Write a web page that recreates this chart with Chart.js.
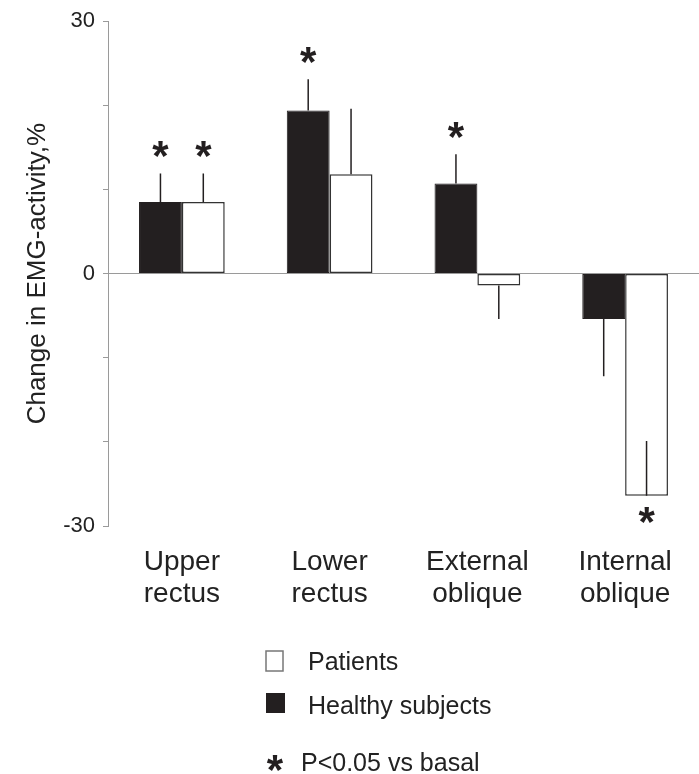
<!DOCTYPE html>
<html>
<head>
<meta charset="utf-8">
<script src="https://cdn.jsdelivr.net/npm/chart.js@4.4.0/dist/chart.umd.min.js"></script>
<style>
  html, body { margin: 0; padding: 0; background: #fff; }
  #wrap { width: 699px; height: 774px; }
</style>
</head>
<body>
<div id="wrap"><canvas id="chart" width="699" height="774"></canvas></div>
<script>
var categories = [['Upper', 'rectus'], ['Lower', 'rectus'], ['External', 'oblique'], ['Internal', 'oblique']];

// mean change, %
var healthy = [8.5, 19.4, 10.7, -5.4];
var patients = [8.5, 11.8, -1.4, -26.4];

// error bar length, signed (drawn from bar end)
var healthyErr = [3.4, 3.7, 3.5, -6.8];
var patientsErr = [3.4, 7.8, -4.0, 6.5];

// P<0.05 vs basal
var healthySig = [true, true, true, false];
var patientsSig = [true, false, false, true];

var yTickLabels = [30, 0, -30];

var ink = '#231f20';
var textColor = '#222222';
var axisColor = '#9a9a9a';
var family = 'Arial, "Liberation Sans", sans-serif';

var errs = [healthyErr, patientsErr];
var sigs = [healthySig, patientsSig];

function drawStar(ctx, x, y, size) {
    ctx.save();
    ctx.font = 'bold ' + size + 'px ' + family;
    ctx.fillStyle = ink;
    ctx.textAlign = 'center';
    ctx.textBaseline = 'alphabetic';
    var m = ctx.measureText('*');
    var asc = m.actualBoundingBoxAscent, desc = m.actualBoundingBoxDescent;
    ctx.fillText('*', x, y + (asc - desc) / 2);
    ctx.restore();
}

var errorBarsPlugin = {
    id: 'errorBars',
    afterDatasetsDraw: function (chart) {
        var ctx = chart.ctx;
        var y = chart.scales.y;
        chart.data.datasets.forEach(function (ds, i) {
            var meta = chart.getDatasetMeta(i);
            meta.data.forEach(function (bar, j) {
                var v = ds.data[j];
                var e = errs[i][j];
                ctx.save();
                ctx.strokeStyle = ink;
                ctx.lineWidth = 1.5;
                ctx.beginPath();
                ctx.moveTo(bar.x, y.getPixelForValue(v));
                ctx.lineTo(bar.x, y.getPixelForValue(v + e));
                ctx.stroke();
                ctx.restore();
                if (sigs[i][j]) {
                    var far = v >= 0 ? Math.max(v, v + e) : Math.min(v, v + e);
                    var py = y.getPixelForValue(far);
                    drawStar(ctx, bar.x, v >= 0 ? py - 24 : py + 19, 42);
                }
            });
        });
    }
};

var legendPlugin = {
    id: 'sideLegend',
    afterDraw: function (chart) {
        var ctx = chart.ctx;
        ctx.save();
        ctx.font = '25px ' + family;
        ctx.fillStyle = textColor;
        ctx.textBaseline = 'alphabetic';
        ctx.textAlign = 'left';
        // Patients
        ctx.strokeStyle = '#777';
        ctx.lineWidth = 1.5;
        ctx.strokeRect(266, 651, 17, 20);
        ctx.fillText('Patients', 308, 670);
        // Healthy
        ctx.fillStyle = ink;
        ctx.fillRect(266, 693, 19, 20);
        ctx.fillStyle = textColor;
        ctx.fillText('Healthy subjects', 308, 714);
        ctx.fillText('P<0.05 vs basal', 301, 771);
        ctx.restore();
        drawStar(ctx, 275, 763, 42);
    }
};

new Chart(document.getElementById('chart'), {
    type: 'bar',
    data: {
        labels: categories,
        datasets: [{
            label: 'Healthy subjects',
            data: healthy,
            backgroundColor: ink,
            borderColor: ink,
            borderWidth: 1,
            borderSkipped: false
        }, {
            label: 'Patients',
            data: patients,
            backgroundColor: '#ffffff',
            borderColor: '#333333',
            borderWidth: 1.5,
            borderSkipped: false
        }]
    },
    options: {
        responsive: false,
        animation: false,
        layout: { padding: { top: 17, right: 0, left: 0, bottom: 0 } },
        datasets: { bar: { categoryPercentage: 0.58, barPercentage: 1.0 } },
        scales: {
            x: {
                afterFit: function (scale) { scale.height = 248; },
                grid: { display: false },
                border: { display: false },
                ticks: {
                    color: textColor,
                    font: { family: family, size: 28, lineHeight: 1.15 },
                    padding: 12,
                    maxRotation: 0
                }
            },
            y: {
                min: -30,
                max: 30,
                afterFit: function (scale) { scale.width = 108; },
                border: { color: axisColor, width: 1 },
                grid: {
                    color: function (c) { return c.tick && c.tick.value === 0 ? axisColor : 'rgba(0,0,0,0)'; },
                    tickColor: axisColor,
                    tickLength: 5,
                    lineWidth: 1
                },
                ticks: {
                    stepSize: 10,
                    color: textColor,
                    font: { family: family, size: 22 },
                    padding: 8,
                    callback: function (value) {
                        return yTickLabels.indexOf(value) >= 0 ? String(value) : '';
                    }
                },
                title: {
                    display: true,
                    text: 'Change in EMG-activity,%',
                    color: textColor,
                    font: { family: family, size: 26 },
                    padding: { top: 22, bottom: 0 }
                }
            }
        },
        plugins: {
            legend: { display: false },
            tooltip: { enabled: false }
        }
    },
    plugins: [errorBarsPlugin, legendPlugin]
});
</script>
</body>
</html>
